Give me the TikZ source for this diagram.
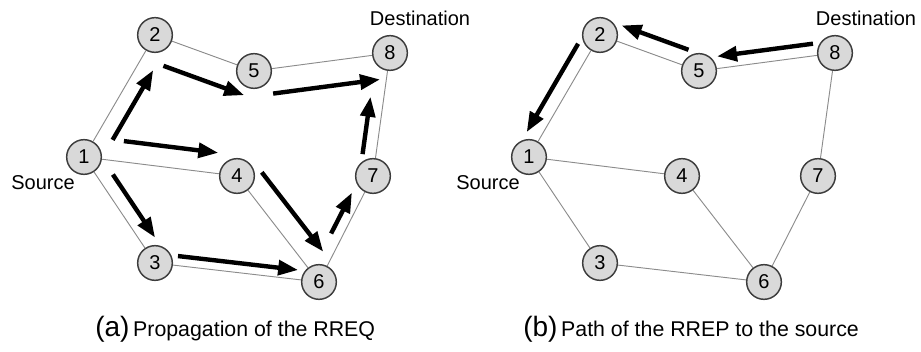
\documentclass[tikz,border=0pt]{standalone}
\usepackage{fontspec}
\setmainfont{Liberation Sans}
\usepackage{tikz}
\usetikzlibrary{arrows.meta}
\definecolor{nodefill}{RGB}{217,217,217}
\definecolor{nodeline}{RGB}{60,60,60}
\definecolor{linkgray}{RGB}{140,140,140}

\begin{document}
\begin{tikzpicture}[x=0.75pt,y=0.75pt,yscale=-1,xscale=1,
  router/.style={circle,draw=nodeline,fill=nodefill,line width=1.1pt,minimum size=26pt,inner sep=0pt,font=\fontsize{15}{15}\selectfont},
  link/.style={draw=linkgray,line width=0.7pt},
  flow/.style={line width=3.3pt,-{Triangle[length=15pt,width=11pt]}},
  lbl/.style={font=\fontsize{15}{15}\selectfont,inner sep=0pt}]
%set diagram to 921 x 352
\useasboundingbox (0,0) rectangle (921,352);

%%%%%%%% (a) propagation of the RREQ
%Shape: Circle
\node[router] (p1) at (84,157) {1};
\node[router] (p2) at (155,35) {2};
\node[router] (p3) at (155,263) {3};
\node[router] (p4) at (237,176) {4};
\node[router] (p5) at (254,71) {5};
\node[router] (p6) at (319,282) {6};
\node[router] (p7) at (373,176) {7};
\node[router] (p8) at (390,53) {8};
%Straight Lines
\draw[link] (p1) -- (p2) -- (p5) -- (p8) -- (p7) -- (p6) -- (p3) -- (p1);
\draw[link] (p1) -- (p4) -- (p6);
%Arrows
\draw[flow,shorten <=8.25pt,shorten >=10pt,transform canvas={shift={(10.5pt,-6pt)}}] (p1) -- (p2);
\draw[flow,shorten <=0pt,shorten >=-12.5pt,transform canvas={shift={(-6.4pt,-18.5pt)}}] (p2) -- (p5);
\draw[flow,shorten <=-1.6pt,shorten >=-3.5pt,transform canvas={shift={(2.5pt,-18.5pt)}}] (p5) -- (p8);
\draw[flow,shorten <=14.6pt,shorten >=2.6pt,transform canvas={shift={(2pt,15.4pt)}}] (p1) -- (p4);
\draw[flow,shorten <=9.4pt,shorten >=2.3pt,transform canvas={shift={(8.9pt,5.9pt)}}] (p1) -- (p3);
\draw[flow,shorten <=2.9pt,shorten >=3.1pt,transform canvas={shift={(0.9pt,7.1pt)}}] (p3) -- (p6);
\draw[flow,shorten <=-4.4pt,shorten >=2.5pt,transform canvas={shift={(13pt,10pt)}}] (p4) -- (p6);
\draw[flow,shorten <=23pt,shorten >=4.7pt,transform canvas={shift={(-7.5pt,3.8pt)}}] (p6) -- (p7);
\draw[flow,shorten <=1.6pt,shorten >=21pt,transform canvas={shift={(-9.9pt,1.4pt)}}] (p7) -- (p8);
% Text Node
\node[lbl] (srcA) at (43,183) {Source};
\node[lbl] (dstA) at (420,18) {Destination};
\node[anchor=base west,inner sep=0pt] (capA) at (95,337) {{\fontsize{21}{21}\selectfont (a)} {\fontsize{16}{16}\selectfont Propagation of the RREQ}};

%%%%%%%% (b) path of the RREP to the source
%Shape: Circle
\node[router] (r1) at (529,157) {1};
\node[router] (r2) at (600,35) {2};
\node[router] (r3) at (600,263) {3};
\node[router] (r4) at (682,176) {4};
\node[router] (r5) at (699,71) {5};
\node[router] (r6) at (764,282) {6};
\node[router] (r7) at (818,176) {7};
\node[router] (r8) at (835,53) {8};
%Straight Lines
\draw[link] (r1) -- (r2) -- (r5) -- (r8) -- (r7) -- (r6) -- (r3) -- (r1);
\draw[link] (r1) -- (r4) -- (r6);
%Arrows
\draw[flow,shorten <=1.9pt,shorten >=1.3pt,transform canvas={shift={(-1.2pt,9pt)}}] (r8) -- (r5);
\draw[flow,shorten <=-0.6pt,shorten >=-0.9pt,transform canvas={shift={(4.3pt,11.5pt)}}] (r5) -- (r2);
\draw[flow,shorten <=0.4pt,shorten >=1.7pt,transform canvas={shift={(-9.4pt,5.5pt)}}] (r2) -- (r1);
% Text Node
\node[lbl] (srcB) at (488,183) {Source};
\node[lbl] (dstB) at (866,18) {Destination};
\node[anchor=base west,inner sep=0pt] (capB) at (523,337) {{\fontsize{21}{21}\selectfont (b)} {\fontsize{16}{16}\selectfont Path of the RREP to the source}};

\end{tikzpicture}
\end{document}
